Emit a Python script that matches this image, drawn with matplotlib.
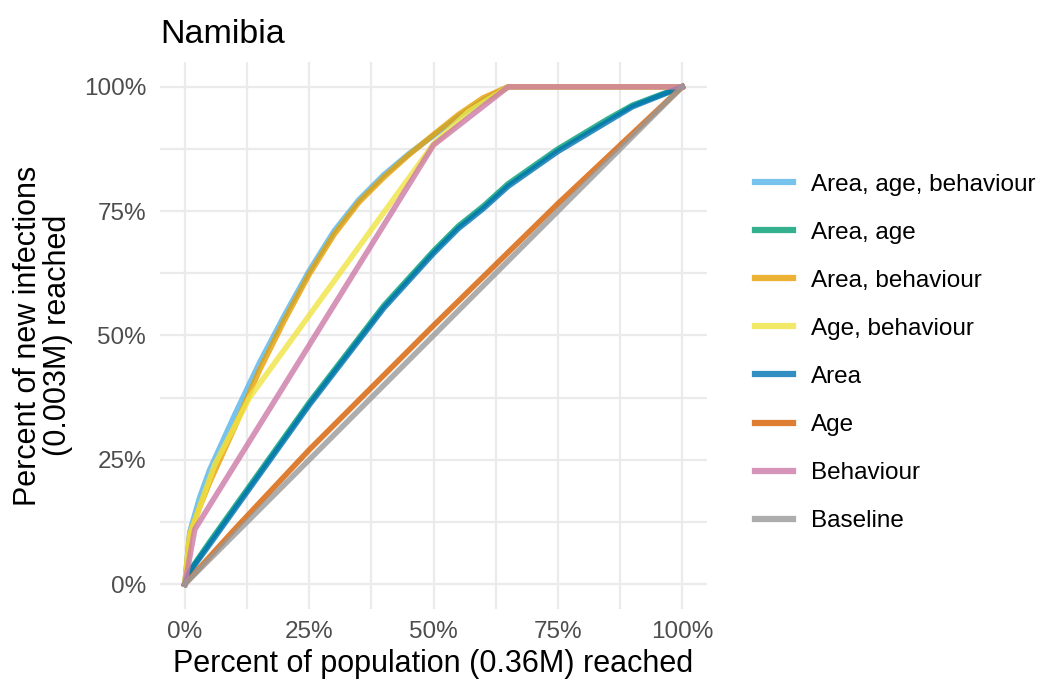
import matplotlib
matplotlib.use("Agg")
import matplotlib.pyplot as plt
from matplotlib.ticker import FuncFormatter

plt.rcParams['font.family'] = ['Liberation Sans', 'DejaVu Sans']

# data (percent of population reached -> percent of new infections reached)
pop_top = [0, 1, 3, 5, 10, 15, 20, 25, 30, 35, 40, 45, 50, 55, 60, 65, 100]
area_age_beh = [0, 10.5, 17.5, 23, 34, 44.5, 54, 63, 71, 77.3, 82.3, 86.5, 90.2, 94, 97.3, 100, 100]
area_beh = [0, 10, 15.5, 20.5, 31.5, 43, 53, 62.3, 70.3, 76.8, 81.8, 86.3, 90.4, 94.4, 97.8, 100, 100]

pop_agebeh = [0, 1, 6, 13, 50, 57, 65, 100]
age_beh = [0, 10, 24, 37.5, 88.5, 95, 100, 100]

pop_area = [0, 1, 5, 10, 15, 20, 25, 30, 35, 40, 45, 50, 55, 60, 65, 70, 75, 80, 85, 90, 95, 100]
area = [0, 2.5, 8, 15, 22, 29, 36, 42.5, 49, 55.5, 61, 66.5, 71.5, 75.5, 80, 83.5, 87, 90, 93, 96, 98, 100]
area_age = [0, 2.7, 8.5, 15.5, 22.5, 29.5, 36.5, 43, 49.5, 56, 61.5, 67, 72, 76, 80.5, 84, 87.5, 90.5, 93.5, 96.3, 98.2, 100]

pop_age = [0, 10, 25, 50, 75, 100]
age = [0, 11, 27, 52, 76.5, 100]

pop_beh = [0, 2, 50, 65, 100]
behaviour = [0, 11, 88.3, 100, 100]

pop_base = [0, 100]
baseline = [0, 100]

series = [
    ("Area, age, behaviour", pop_top, area_age_beh, "#56B4E9"),
    ("Area, age", pop_area, area_age, "#009E73"),
    ("Area, behaviour", pop_top, area_beh, "#E69F00"),
    ("Age, behaviour", pop_agebeh, age_beh, "#F0E442"),
    ("Area", pop_area, area, "#0072B2"),
    ("Age", pop_age, age, "#D55E00"),
    ("Behaviour", pop_beh, behaviour, "#CC79A7"),
    ("Baseline", pop_base, baseline, "#999999"),
]

fig = plt.figure(figsize=(10.47, 6.85), dpi=100)
ax = fig.add_axes([0.1528, 0.111, 0.5225, 0.7985])

for name, xs, ys, col in series:
    ax.plot(xs, ys, color=col, lw=4, alpha=0.8, label=name, solid_joinstyle='round')

ax.set_xlim(-5, 105)
ax.set_ylim(-5, 105)
ticks = [0, 25, 50, 75, 100]
ax.set_xticks(ticks)
ax.set_yticks(ticks)
ax.set_xticks([12.5, 37.5, 62.5, 87.5], minor=True)
ax.set_yticks([12.5, 37.5, 62.5, 87.5], minor=True)
fmt = FuncFormatter(lambda v, p: f"{v:.0f}%")
ax.xaxis.set_major_formatter(fmt)
ax.yaxis.set_major_formatter(fmt)
ax.grid(which='major', color='#EBEBEB', lw=1.6)
ax.grid(which='minor', color='#EBEBEB', lw=1.6)
ax.set_axisbelow(True)
for s in ax.spines.values():
    s.set_visible(False)
ax.tick_params(which='both', length=0, labelsize=17.5, labelcolor='#4D4D4D')
ax.tick_params(axis='x', pad=9)
ax.tick_params(axis='y', pad=10)

ax.set_xlabel("Percent of population (0.36M) reached", fontsize=22, labelpad=4)
ax.set_ylabel("Percent of new infections\n(0.003M) reached", fontsize=22, labelpad=8, linespacing=1.0)
ax.set_title("Namibia", fontsize=24.5, loc='left', pad=14)

leg = ax.legend(loc='center left', bbox_to_anchor=(1.048, 0.468), frameon=False,
                fontsize=17.5, handlelength=1.55, handletextpad=0.75, labelspacing=1.07)
for h in leg.get_lines():
    h.set_linewidth(4.5)

fig.savefig("out.png", dpi=100)
